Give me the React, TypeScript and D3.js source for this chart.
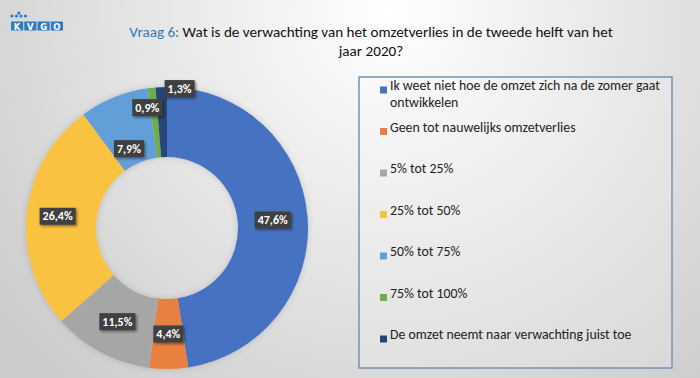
import React, { useEffect, useRef } from "react";
import * as d3 from "d3";

const categories = [
  "Ik weet niet hoe de omzet zich na de zomer gaat ontwikkelen",
  "Geen tot nauwelijks omzetverlies",
  "5% tot 25%",
  "25% tot 50%",
  "50% tot 75%",
  "75% tot 100%",
  "De omzet neemt naar verwachting juist toe",
];
const values = [47.6, 4.4, 11.5, 26.4, 7.9, 0.9, 1.3];
const valueLabels = ["47,6%", "4,4%", "11,5%", "26,4%", "7,9%", "0,9%", "1,3%"];
const colors = ["#4672c2", "#ea8040", "#a6a6a6", "#f9c23f", "#629fd8", "#70ad47", "#264478"];
const titleQuestion = "Vraag 6:";
const titleLine1 = " Wat is de verwachting van het omzetverlies in de tweede helft van het";
const titleLine2 = "jaar 2020?";
const logoLetters = ["K", "V", "G", "O"];

// label placement tweaks (radius, angle shift in degrees) to avoid overlap of small slices
const labelTweaks: { r: number; da: number }[] = [
  { r: 106, da: 0 },
  { r: 106, da: 0 },
  { r: 106, da: 0 },
  { r: 110, da: 0 },
  { r: 88, da: -3.5 },
  { r: 122, da: -3 },
  { r: 140, da: 7.5 },
];

const W = 700;
const H = 378;

export default function App() {
  const ref = useRef<SVGSVGElement | null>(null);

  useEffect(() => {
    document.body.style.margin = "0";
    const svg = d3.select(ref.current);
    svg.selectAll("*").remove();

    const defs = svg.append("defs");
    const grad = defs
      .append("radialGradient")
      .attr("id", "bg")
      .attr("gradientUnits", "userSpaceOnUse")
      .attr("cx", 390)
      .attr("cy", 15)
      .attr("r", 500);
    grad.append("stop").attr("offset", "0").attr("stop-color", "#ffffff");
    grad.append("stop").attr("offset", "1").attr("stop-color", "#cbcbcb");

    const shadow = defs.append("filter").attr("id", "lblShadow").attr("x", "-30%").attr("y", "-40%").attr("width", "170%").attr("height", "190%");
    shadow.append("feDropShadow").attr("dx", 1.5).attr("dy", 1.5).attr("stdDeviation", 1.2).attr("flood-color", "#000").attr("flood-opacity", 0.45);

    const dshadow = defs.append("filter").attr("id", "donutShadow").attr("x", "-20%").attr("y", "-20%").attr("width", "140%").attr("height", "140%");
    dshadow.append("feDropShadow").attr("dx", 0).attr("dy", 0).attr("stdDeviation", 3).attr("flood-color", "#000").attr("flood-opacity", 0.15);

    svg.append("rect").attr("width", W).attr("height", H).attr("fill", "url(#bg)");

    // Logo
    const logo = svg.append("g");
    const lx = d3.scaleBand<string>().domain(logoLetters).range([11, 63]).paddingInner(0.08);
    logo
      .selectAll("rect")
      .data(logoLetters)
      .join("rect")
      .attr("x", (d) => lx(d)!)
      .attr("y", 21.5)
      .attr("width", lx.bandwidth())
      .attr("height", 9)
      .attr("fill", "#2f7cc4");
    logo
      .selectAll("text")
      .data(logoLetters)
      .join("text")
      .attr("x", (d) => lx(d)! + lx.bandwidth() / 2)
      .attr("y", 29.5)
      .attr("text-anchor", "middle")
      .attr("fill", "#fff")
      .attr("font-family", "'DejaVu Sans', sans-serif")
      .attr("font-weight", "bold")
      .attr("font-size", 8.5)
      .text((d) => d);
    const dots = [
      [12, 16],
      [16.5, 16],
      [21, 16],
      [25.5, 16],
      [18.8, 13],
    ];
    logo
      .selectAll("circle")
      .data(dots)
      .join("circle")
      .attr("cx", (d) => d[0])
      .attr("cy", (d) => d[1])
      .attr("r", 1.6)
      .attr("fill", "#2f7cc4");

    // Title
    const font = "Carlito, Lato, 'Open Sans', sans-serif";
    const t1 = svg
      .append("text")
      .attr("x", 371)
      .attr("y", 37)
      .attr("text-anchor", "middle")
      .attr("font-family", font)
      .attr("font-size", 17);
    t1.append("tspan").attr("fill", "#2e7ac0").text(titleQuestion);
    t1.append("tspan").attr("fill", "#111").text(titleLine1);
    const natural = (t1.node() as SVGTextElement).getComputedTextLength();
    const titleSize = Math.min(17.5, (17 * 484) / natural);
    t1.attr("font-size", titleSize);
    svg
      .append("text")
      .attr("x", 371)
      .attr("y", 56)
      .attr("text-anchor", "middle")
      .attr("font-family", font)
      .attr("font-size", titleSize)
      .attr("fill", "#111")
      .text(titleLine2);

    // Donut
    const cx = 167;
    const cy = 228;
    const outerR = 141;
    const innerR = 71;
    const pie = d3.pie<number>().sort(null).value((d) => d);
    const arcs = pie(values);
    const arc = d3.arc<d3.PieArcDatum<number>>().innerRadius(innerR).outerRadius(outerR);
    const g = svg.append("g").attr("transform", `translate(${cx},${cy})`);
    const ring = g.append("g").attr("filter", "url(#donutShadow)");
    ring
      .selectAll("path")
      .data(arcs)
      .join("path")
      .attr("d", arc)
      .attr("fill", (_, i) => colors[i]);

    // Labels
    const lblG = g.append("g");
    arcs.forEach((a, i) => {
      const tw = labelTweaks[i];
      const ang = (a.startAngle + a.endAngle) / 2 + (tw.da * Math.PI) / 180;
      const x = tw.r * Math.sin(ang);
      const y = -tw.r * Math.cos(ang);
      const lg = lblG.append("g").attr("transform", `translate(${x},${y})`);
      const rect = lg.append("rect").attr("fill", "#404040").attr("filter", "url(#lblShadow)");
      const txt = lg
        .append("text")
        .attr("text-anchor", "middle")
        .attr("dy", "0.35em")
        .attr("font-family", font)
        .attr("font-weight", "bold")
        .attr("font-size", 12)
        .attr("fill", "#fff")
        .text(valueLabels[i]);
      const w = (txt.node() as SVGTextElement).getComputedTextLength();
      const bw = w + 6;
      const bh = 17;
      rect.attr("x", -bw / 2).attr("y", -bh / 2).attr("width", bw).attr("height", bh);
    });

    // Legend
    const legend = svg.append("g");
    legend
      .append("rect")
      .attr("x", 359)
      .attr("y", 77)
      .attr("width", 313)
      .attr("height", 291)
      .attr("fill", "rgba(255,255,255,0.18)")
      .attr("stroke", "#7890bb")
      .attr("stroke-width", 1.5);
    const ly = d3
      .scaleLinear()
      .domain([0, categories.length - 1])
      .range([90, 90 + 41.5 * (categories.length - 1)]);
    const maxW = 272;
    const legendSize = 13.8;
    categories.forEach((c, i) => {
      const y = ly(i);
      legend
        .append("rect")
        .attr("x", 380)
        .attr("y", y - 3.5)
        .attr("width", 7)
        .attr("height", 7)
        .attr("fill", colors[i]);
      const txt = legend
        .append("text")
        .attr("x", 390)
        .attr("y", y)
        .attr("dy", "0.35em")
        .attr("font-family", font)
        .attr("font-size", legendSize)
        .attr("fill", "#222");
      const words = c.split(" ");
      let line: string[] = [];
      let tspan = txt.append("tspan").attr("x", 390).attr("dy", 0);
      words.forEach((w) => {
        line.push(w);
        tspan.text(line.join(" "));
        if ((tspan.node() as SVGTSpanElement).getComputedTextLength() > maxW && line.length > 1) {
          line.pop();
          tspan.text(line.join(" "));
          line = [w];
          tspan = txt.append("tspan").attr("x", 390).attr("dy", 16.5).text(w);
        }
      });
    });
  }, []);

  return <svg ref={ref} width={W} height={H} style={{ display: "block" }} />;
}
